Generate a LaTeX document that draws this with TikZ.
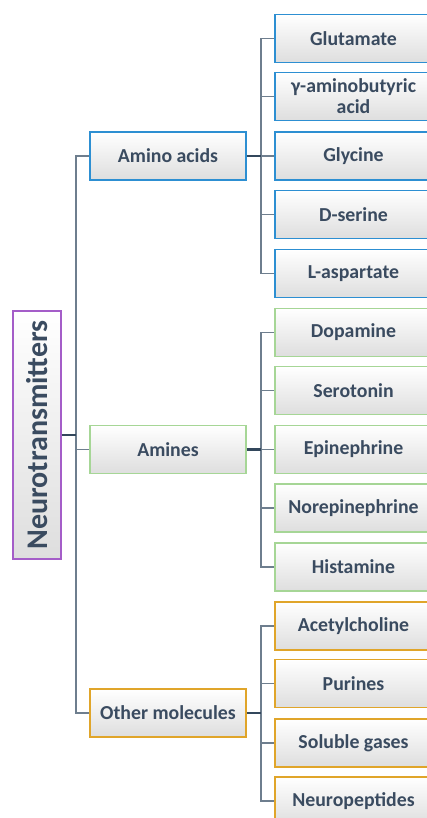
\documentclass[tikz,border=0pt]{standalone}
\usepackage{fontspec}
\setmainfont{Carlito}
\definecolor{txt}{HTML}{3A4B60}
\definecolor{wire}{HTML}{6E7E8E}
\definecolor{stubc}{HTML}{33475C}
\definecolor{bluec}{HTML}{2D8FD2}
\definecolor{greenc}{HTML}{A6D696}
\definecolor{orangec}{HTML}{E0A52A}
\definecolor{purplec}{HTML}{A45DC8}
\tikzset{
  box/.style={draw, line width=1.2pt, top color=white, bottom color=black!13,
    text=txt, font=\bfseries\fontsize{19.8}{21}\selectfont, align=center,
    inner sep=0pt, minimum height=48pt},
  mid/.style={box, minimum width=156pt},
  leaf/.style={box, minimum width=157pt},
  link/.style={draw=wire, line width=1.5pt},
  stub/.style={draw=stubc, line width=2.2pt}
}
\begin{document}
\begin{tikzpicture}[x=1pt,y=-1pt]
\useasboundingbox (0,0) rectangle (427,818);

\node[box, draw=purplec, rotate=90, minimum width=248pt, minimum height=48pt,
  font=\bfseries\fontsize{30}{32}\selectfont] (root) at (37,435) {Neurotransmitters};

\node[mid, draw=bluec] (amino) at (168,156) {Amino acids};
\node[mid, draw=greenc] (amines) at (168,449.5) {Amines};
\node[mid, draw=orangec] (other) at (168,713) {Other molecules};

\node[leaf, draw=bluec] (glut) at (353.5,38.5) {Glutamate};
\node[leaf, draw=bluec] (gaba) at (353.5,96.5) {γ-aminobutyric\\acid};
\node[leaf, draw=bluec] (gly) at (353.5,156) {Glycine};
\node[leaf, draw=bluec] (dser) at (353.5,214.5) {D-serine};
\node[leaf, draw=bluec] (lasp) at (353.5,273.5) {L-aspartate};

\node[leaf, draw=greenc] (dopa) at (353.5,332.5) {Dopamine};
\node[leaf, draw=greenc] (sero) at (353.5,390.5) {Serotonin};
\node[leaf, draw=greenc] (epi) at (353.5,449.5) {Epinephrine};
\node[leaf, draw=greenc] (norepi) at (353.5,508) {Norepinephrine};
\node[leaf, draw=greenc] (hist) at (353.5,567) {Histamine};

\node[leaf, draw=orangec] (ach) at (353.5,626) {Acetylcholine};
\node[leaf, draw=orangec] (pur) at (353.5,683.5) {Purines};
\node[leaf, draw=orangec] (gas) at (353.5,743) {Soluble gases};
\node[leaf, draw=orangec] (pept) at (353.5,801) {Neuropeptides};

% trunk from the root
\coordinate (trunk) at (76,435);
\draw[link] (trunk) |- (amino.west);
\draw[link] (trunk) |- (amines.west);
\draw[link] (trunk) |- (other.west);
\draw[stub] (root.south) -- (trunk);

% amino acids
\coordinate (aminobus) at (261,156);
\draw[link] (aminobus) |- (glut.west);
\draw[link] (aminobus) |- (gaba.west);
\draw[link] (aminobus) |- (gly.west);
\draw[link] (aminobus) |- (dser.west);
\draw[link] (aminobus) |- (lasp.west);
\draw[stub] (amino.east) -- (aminobus);

% amines
\coordinate (aminesbus) at (261,449.5);
\draw[link] (aminesbus) |- (dopa.west);
\draw[link] (aminesbus) |- (sero.west);
\draw[link] (aminesbus) |- (epi.west);
\draw[link] (aminesbus) |- (norepi.west);
\draw[link] (aminesbus) |- (hist.west);
\draw[stub] (amines.east) -- (aminesbus);

% other molecules
\coordinate (otherbus) at (261,713);
\draw[link] (otherbus) |- (ach.west);
\draw[link] (otherbus) |- (pur.west);
\draw[link] (otherbus) |- (gas.west);
\draw[link] (otherbus) |- (pept.west);
\draw[stub] (other.east) -- (otherbus);
\end{tikzpicture}
\end{document}
